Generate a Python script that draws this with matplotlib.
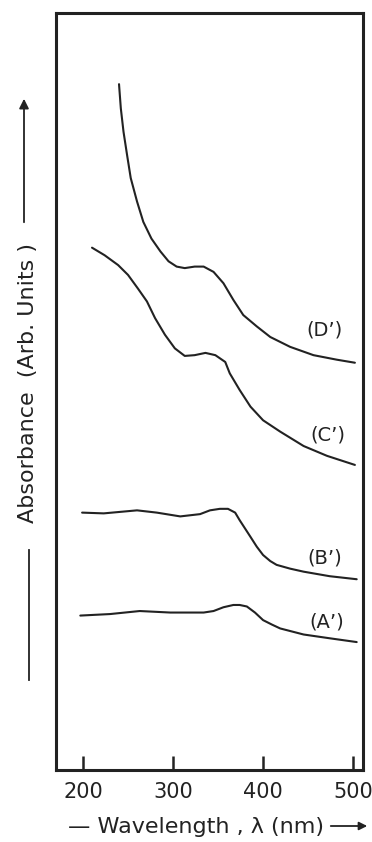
import matplotlib
matplotlib.use("Agg")
import matplotlib.pyplot as plt
from matplotlib.lines import Line2D

# Absorption spectra (arbitrary units, curves offset for clarity)
wl_D = [240, 242, 245, 249, 253, 260, 267, 276, 286, 295, 304, 313, 324, 334, 345, 356,
        367, 378, 393, 408, 430, 456, 482, 502]
ab_D = [9.06, 8.74, 8.43, 8.12, 7.82, 7.51, 7.24, 7.02, 6.85, 6.72, 6.65, 6.63, 6.65, 6.65,
        6.58, 6.43, 6.21, 6.01, 5.86, 5.72, 5.59, 5.48, 5.42, 5.38]

wl_C = [210, 224, 239, 250, 261, 271, 280, 291, 302, 313, 324, 336, 347, 358, 363, 374,
        386, 400, 419, 445, 471, 502]
ab_C = [6.90, 6.80, 6.67, 6.54, 6.36, 6.19, 5.97, 5.75, 5.57, 5.47, 5.48, 5.51, 5.48, 5.39,
        5.24, 5.02, 4.80, 4.62, 4.47, 4.28, 4.15, 4.03]

wl_B = [199, 223, 260, 282, 308, 330, 341, 352, 361, 369, 374, 380, 386, 393, 400, 408,
        415, 430, 445, 474, 504]
ab_B = [3.40, 3.39, 3.43, 3.40, 3.35, 3.38, 3.43, 3.45, 3.45, 3.40, 3.30, 3.19, 3.08, 2.95,
        2.84, 2.76, 2.71, 2.66, 2.62, 2.56, 2.52]

wl_A = [197, 230, 263, 297, 334, 345, 356, 367, 374, 382, 391, 400, 410, 419, 445, 474, 504]
ab_A = [2.04, 2.06, 2.10, 2.08, 2.08, 2.10, 2.15, 2.18, 2.18, 2.16, 2.08, 1.98, 1.92, 1.87,
        1.79, 1.74, 1.69]

curve_labels = ["(A’)", "(B’)", "(C’)", "(D’)"]
label_pos = [(471, 1.95), (468, 2.80), (472, 4.42), (468, 5.81)]
x_ticks = [200, 300, 400, 500]

ink = "#222222"

fig = plt.figure(figsize=(3.72, 8.42), dpi=100)
fig.patch.set_facecolor("white")
ax = fig.add_axes([56 / 372, 72 / 842, 307 / 372, 757 / 842])

for wl, ab in [(wl_A, ab_A), (wl_B, ab_B), (wl_C, ab_C), (wl_D, ab_D)]:
    ax.plot(wl, ab, color=ink, lw=1.5, solid_joinstyle="round", solid_capstyle="round")

for text, (x, y) in zip(curve_labels, label_pos):
    ax.text(x, y, text, fontsize=14, color=ink, ha="center", va="center")

ax.set_xlim(170, 511)
ax.set_ylim(0, 10)
ax.set_xticks(x_ticks)
ax.set_xticklabels([str(t) for t in x_ticks])
ax.set_yticks([])
ax.tick_params(axis="x", direction="in", length=10, width=1.8, color=ink,
               labelsize=15, labelcolor=ink, pad=9)
for s in ax.spines.values():
    s.set_linewidth(2.2)
    s.set_color(ink)

# Axis titles with their arrows
fig.text(28 / 372, (842 - 383) / 842, "Absorbance  (Arb. Units )", rotation=90,
         fontsize=16, color=ink, ha="center", va="center")
ax.annotate("", xy=(24, 842 - 96), xycoords="figure pixels",
            xytext=(24, 842 - 225), textcoords="figure pixels",
            arrowprops=dict(arrowstyle="-|>", color=ink, lw=1.3, mutation_scale=14))
fig.add_artist(Line2D([29 / 372, 29 / 372], [(842 - 550) / 842, (842 - 680) / 842],
                      color=ink, lw=1.3))

fig.text(68 / 372, (842 - 827) / 842, "— Wavelength , λ (nm)", fontsize=16,
         color=ink, ha="left", va="center")
ax.annotate("", xy=(370, 842 - 826), xycoords="figure pixels",
            xytext=(328, 842 - 826), textcoords="figure pixels",
            arrowprops=dict(arrowstyle="-|>", color=ink, lw=1.3, mutation_scale=12))

fig.savefig("out.png", dpi=100, facecolor="white")
